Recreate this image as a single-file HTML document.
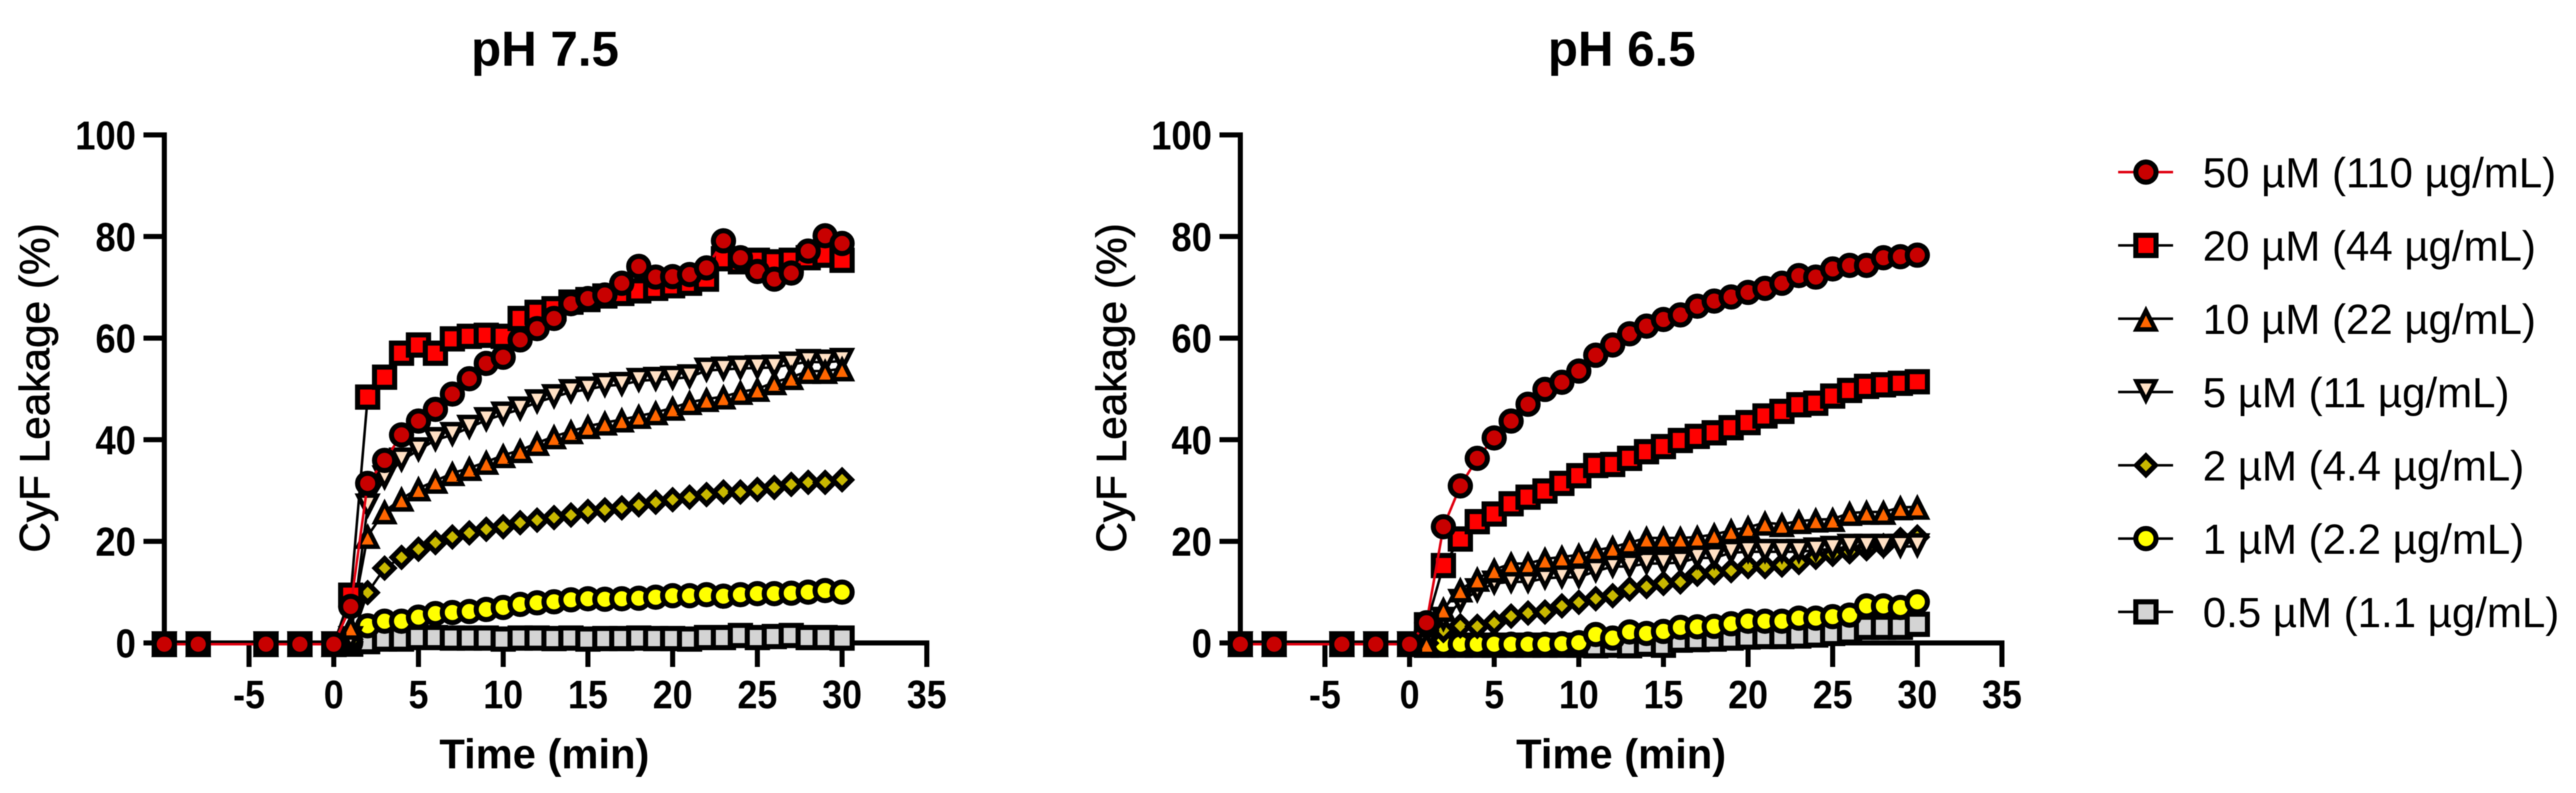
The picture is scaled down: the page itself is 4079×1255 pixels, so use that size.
<!DOCTYPE html>
<html lang="en">
<head>
<meta charset="utf-8">
<title>CyF Leakage vs Time</title>
<style>
html,body{margin:0;padding:0;background:#fff;}
#chart{display:block;width:4079px;height:1255px;font-family:"Liberation Sans",Arial,sans-serif;filter:blur(0.8px);}
</style>
</head>
<body>
<svg id="chart" xmlns="http://www.w3.org/2000/svg" width="4079" height="1255" viewBox="0 0 4079 1255">
<rect x="0" y="0" width="4079" height="1255" fill="#ffffff"/>
<text x="863" y="104" text-anchor="middle" font-size="78" font-weight="bold">pH 7.5</text>
<text x="2568" y="104" text-anchor="middle" font-size="78" font-weight="bold">pH 6.5</text>
<text x="862" y="1216" text-anchor="middle" font-size="66" font-weight="bold">Time (min)</text>
<text x="2567" y="1216" text-anchor="middle" font-size="66" font-weight="bold">Time (min)</text>
<text transform="translate(78,614) rotate(-90)" text-anchor="middle" font-size="67" stroke="#000" stroke-width="1">CyF Leakage (%)</text>
<text transform="translate(1783,614) rotate(-90)" text-anchor="middle" font-size="67" stroke="#000" stroke-width="1">CyF Leakage (%)</text>
</svg>
<script>
const timePoints = [-10,-8,-4,-2,0,1,2,3,4,5,6,7,8,9,10,11,12,13,14,15,16,17,18,19,20,21,22,23,24,25,26,27,28,29,30];
const xTickLabels = [-5,0,5,10,15,20,25,30,35];
const yTickLabels = [0,20,40,60,80,100];
const legendLabels = ["50 µM (110 µg/mL)","20 µM (44 µg/mL)","10 µM (22 µg/mL)","5 µM (11 µg/mL)","2 µM (4.4 µg/mL)","1 µM (2.2 µg/mL)","0.5 µM (1.1 µg/mL)"];
const seriesIds = ["50uM","20uM","10uM","5uM","2uM","1uM","0-5uM"];
const seriesShapes = ["circle","square","triangle","inverted","diamond","circle","square"];
const seriesFills = ["#c80000","#ff0000","#ff6600","#ffe0c4","#c8b800","#ffff00","#d4d4d4"];
const seriesLines = ["#e00010","#000000","#000000","#000000","#000000","#000000","#000000"];

const ph75_50 = [0,0,0,0,0,7.4,31.5,36,41,43.7,46,49,52,55,56.2,59.6,61.8,63.8,66.7,67.7,68.4,70.7,74,71.9,72,72.4,73.7,79,75.7,73,71.5,72.7,77,80,78.5];
const ph75_20 = [0,0,0,0,0,9.6,48.4,52.3,57,58.6,57,59.8,60.3,60.5,60.3,63.8,65,65.7,67,67.5,68.2,68.7,69.2,69.7,70.2,70.7,71.5,75.5,74.9,75.2,74.9,75.2,75.7,76.2,75.2];
const ph75_10 = [0,0,0,0,0,3.4,21.2,26,28.5,30.5,32,33.5,34.5,35.7,37,38,39.4,40.7,41.7,42.7,43.4,44,44.7,45.4,46.3,47.4,48,48.5,49.4,50,51.3,52.3,53.5,53.5,54];
const ph75_5 = [0,0,0,0,0,1,27,32.5,36,38,40,41,42.4,43.9,45,46,47.4,48.4,49.4,49.9,50.6,50.8,51.6,51.8,52,52.3,53.6,53.8,54,54.1,54.2,54.8,55.3,55.2,55.5];
const ph75_2 = [0,0,0,0,0,0.5,10.1,14.9,17,18.6,19.9,21,21.8,22.5,23,23.8,24.3,24.8,25.3,26,26.3,26.7,27.3,27.8,28.3,28.8,29.3,29.8,29.8,30.3,30.7,31.3,31.7,31.7,32.2];
const ph75_1 = [0,0,0,0,0,0.3,3.6,4.5,4.5,5.3,6,6.2,6.4,6.8,7.2,7.8,8.1,8.3,8.7,8.9,8.8,8.9,9,9.2,9.5,9.5,9.7,9.4,9.7,9.9,9.9,10,10.2,10.5,10.2];
const ph75_05 = [0,0,0,0,0,0,0.5,1,1,1.3,1.3,1.2,1.2,1.2,1,1.2,1.2,1.1,1.2,1,1.1,1.1,1.2,1.1,1.1,1,1.3,1.3,1.7,1.3,1.5,1.7,1.3,1.3,1.2];

const ph65_50 = [0,0,0,0,0,4.2,23,31,36.4,40.4,43.7,47,49.9,51.3,53.5,56.6,58.6,60.8,62.3,63.6,64.5,66.2,67.2,68,68.9,69.7,70.7,72.2,71.9,73.5,74.2,74.2,75.7,75.9,76.2];
const ph65_20 = [0,0,0,0,0,3.8,15.4,20.6,24,25.5,27.5,28.8,30,31.5,33,35,35.2,36.4,37.7,38.7,39.9,40.7,41.4,42.4,43.4,44.7,45.6,46.9,47.2,48.6,49.7,50.5,50.8,51.1,51.4];
const ph65_10 = [0,0,0,0,0,0.2,6.9,10.7,12.8,14.6,15.8,15.8,16.7,17.1,17.5,18.4,19,19.9,20.8,20.8,20.8,21,21.5,22.3,22.9,23.8,23.5,24.1,24.4,24.5,25.7,25.9,25.9,26.8,26.9];
const ph65_5 = [0,0,0,0,0,0.2,4.8,8.3,10.4,11.9,12.2,12.2,12.9,13.1,13.1,14.3,15.2,15.2,15.8,15.8,16,16.9,16.9,17.9,18.1,18.1,18.1,18.1,18.4,18.7,19.1,19.1,19.1,19.1,19.2];
const ph65_2 = [0,0,0,0,0,0.2,2.7,3.6,3.5,4.2,5.5,6.1,6.3,7.5,8.2,8.9,9.5,10.8,11.3,11.9,12.2,13.7,14,14.4,15.2,15.2,15.5,16,17,17.6,18.1,18.7,19.3,20.5,21];
const ph65_1 = [0,0,0,0,0,0,0,0,0,0,0,0,0,0.1,0.3,1.9,1.2,2.4,2.1,2.5,3.3,3.4,3.5,4,4.5,4.5,4.5,5.1,5.1,5.4,5.7,7.5,7.5,7.2,8.3];
const ph65_05 = [0,0,0,0,0,-0.2,-0.2,-0.2,-0.2,-0.2,-0.2,-0.2,-0.2,-0.2,-0.2,-0.3,-0.2,-0.3,0,-0.2,0.8,0.9,1,1.2,1.4,1.5,1.5,1.6,1.8,2.1,2.4,3.3,3.3,3.3,3.9];

const ph75Series = [ph75_50,ph75_20,ph75_10,ph75_5,ph75_2,ph75_1,ph75_05];
const ph65Series = [ph65_50,ph65_20,ph65_10,ph65_5,ph65_2,ph65_1,ph65_05];

const NS = "http://www.w3.org/2000/svg";
const svg = document.getElementById("chart");

function mk(tag, parent, attrs) {
  const el = document.createElementNS(NS, tag);
  for (const k in attrs) el.setAttribute(k, attrs[k]);
  parent.appendChild(el);
  return el;
}

function drawMarker(parent, shape, cx, cy, fill) {
  const st = {fill: fill, stroke: "#000000", "stroke-width": 8, "stroke-linejoin": "miter", "stroke-miterlimit": 10};
  const tri = Object.assign({}, st, {"stroke-width": 7});
  let m;
  if (shape === "circle") {
    m = mk("circle", parent, Object.assign({cx: cx, cy: cy, r: 16}, st));
  } else if (shape === "square") {
    m = mk("rect", parent, Object.assign({x: cx - 16, y: cy - 16, width: 32, height: 32}, st));
  } else if (shape === "triangle") {
    m = mk("polygon", parent, Object.assign({points: cx + "," + (cy - 12.7) + " " + (cx + 15) + "," + (cy + 17) + " " + (cx - 15) + "," + (cy + 17)}, tri));
  } else if (shape === "inverted") {
    m = mk("polygon", parent, Object.assign({points: cx + "," + (cy + 12.7) + " " + (cx + 15) + "," + (cy - 17) + " " + (cx - 15) + "," + (cy - 17)}, tri));
  } else {
    m = mk("polygon", parent, Object.assign({points: cx + "," + (cy - 15) + " " + (cx + 15) + "," + cy + " " + cx + "," + (cy + 15) + " " + (cx - 15) + "," + cy}, st));
  }
  return m;
}

function drawPanel(panelName, xZero, pxPerMin, seriesData) {
  const xScale = function (t) { return xZero + t * pxPerMin; };
  const yAxisScale = function (v) { return 1017.5 - v * 8.04; };
  const yScale = function (v) { return 1019.5 - v * 8.08; };
  const axisLeft = xScale(-10);
  const axisBase = yAxisScale(0);

  const g = mk("g", svg, {});
  
  

  const yAxis = mk("line", g, {x1: axisLeft, x2: axisLeft, y1: yAxisScale(100) - 4, y2: axisBase + 4, stroke: "#000", "stroke-width": 8});
  
  

  const xAxis = mk("line", g, {x1: axisLeft, x2: xScale(35) + 4, y1: axisBase, y2: axisBase, stroke: "#000", "stroke-width": 8});
  
  

  yTickLabels.forEach(function (v) {
    const tick = mk("line", g, {x1: axisLeft - 33, x2: axisLeft, y1: yAxisScale(v), y2: yAxisScale(v), stroke: "#000", "stroke-width": 8});
    
    
    const label = mk("text", g, {transform: "translate(" + (axisLeft - 45) + "," + (yAxisScale(v) + 23) + ") scale(0.9,1)", "text-anchor": "end", "font-size": 64, "font-weight": "bold", fill: "#000"});
    label.textContent = String(v);
    
    
  });

  xTickLabels.forEach(function (v) {
    const tick = mk("line", g, {x1: xScale(v), x2: xScale(v), y1: axisBase, y2: axisBase + 38, stroke: "#000", "stroke-width": 8});
    
    
    const label = mk("text", g, {transform: "translate(" + xScale(v) + ",1121) scale(0.9,1)", "text-anchor": "middle", "font-size": 63, "font-weight": "bold", fill: "#000"});
    label.textContent = String(v);
    
    
  });

  for (let s = seriesData.length - 1; s >= 0; s--) {
    const values = seriesData[s];
    const sg = mk("g", g, {});
    
    
    const pts = timePoints.map(function (t, i) { return xScale(t) + "," + yScale(values[i]); }).join(" ");
    const line = mk("polyline", sg, {points: pts, fill: "none", stroke: seriesLines[s], "stroke-width": 4});
    
    
    timePoints.forEach(function (t, i) {
      const m = drawMarker(sg, seriesShapes[s], xScale(t), yScale(values[i]), seriesFills[s]);
      
      
    });
  }
}

function drawLegend() {
  const lg = mk("g", svg, {});
  
  
  legendLabels.forEach(function (txt, i) {
    const rowY = 272.4 + i * 116;
    const row = mk("g", lg, {});
    
    
    const ln = mk("line", row, {x1: 3354, x2: 3441, y1: rowY, y2: rowY, stroke: seriesLines[i], "stroke-width": 4});
    
    
    const mark = drawMarker(row, seriesShapes[i], 3398, rowY, seriesFills[i]);
    
    
    const label = mk("text", row, {x: 3488, y: rowY + 24, "font-size": 66.5, fill: "#000"});
    label.textContent = txt;
    
    
  });
}

drawPanel("ph-7-5", 528.5, 26.83, ph75Series);
drawPanel("ph-6-5", 2232, 26.8, ph65Series);
drawLegend();
</script>
</body>
</html>
